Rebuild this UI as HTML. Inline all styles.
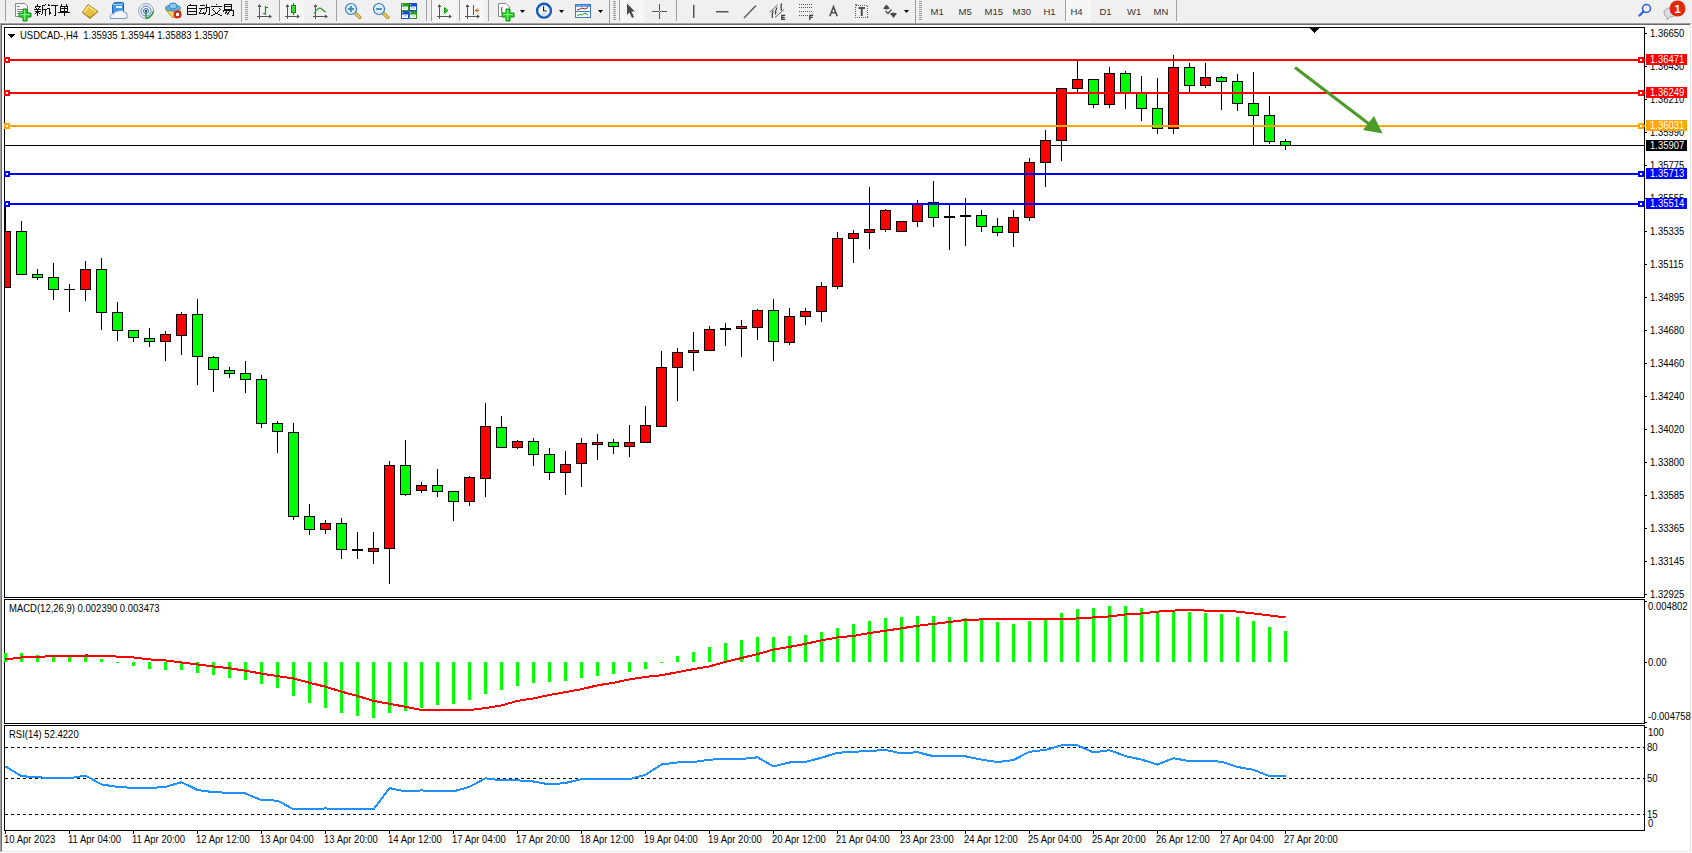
<!DOCTYPE html>
<html><head><meta charset="utf-8"><style>
html,body{margin:0;padding:0;background:#F0F0F0;overflow:hidden}
svg{display:block}
text{font-family:"Liberation Sans",sans-serif}
</style></head><body>
<svg width="1692" height="853" viewBox="0 0 1692 853" shape-rendering="crispEdges">
<rect x="0" y="0" width="1692" height="23" fill="#F0F0F0"/>
<rect x="0" y="23" width="1691" height="1" fill="#A0A0A0"/>
<rect x="0" y="23" width="1" height="829" fill="#A0A0A0"/>
<rect x="1" y="24" width="1689" height="1" fill="#696969"/>
<rect x="1" y="24" width="1" height="827" fill="#696969"/>
<rect x="2" y="25" width="1688" height="826" fill="#FFFFFF"/>
<rect x="1690" y="25" width="2" height="828" fill="#FFFFFF"/>
<rect x="0" y="852" width="1692" height="1" fill="#FFFFFF"/>
<rect x="1690" y="24" width="1" height="828" fill="#E3E3E3"/>
<rect x="1" y="851" width="1690" height="1" fill="#E3E3E3"/>
<rect x="4" y="27" width="1641" height="1" fill="#000"/>
<rect x="4" y="597" width="1641" height="1" fill="#000"/>
<rect x="4" y="27" width="1" height="571" fill="#000"/>
<rect x="1644" y="27" width="1" height="571" fill="#000"/>
<rect x="4" y="599" width="1641" height="1" fill="#000"/>
<rect x="4" y="723" width="1641" height="1" fill="#000"/>
<rect x="4" y="599" width="1" height="125" fill="#000"/>
<rect x="1644" y="599" width="1" height="125" fill="#000"/>
<rect x="4" y="725" width="1641" height="1" fill="#000"/>
<rect x="4" y="830" width="1641" height="1" fill="#000"/>
<rect x="4" y="725" width="1" height="106" fill="#000"/>
<rect x="1644" y="725" width="1" height="106" fill="#000"/>
<rect x="5" y="145" width="1639" height="1" fill="#000"/>
<defs><clipPath id="cm"><rect x="5" y="28" width="1639" height="569"/></clipPath></defs><g clip-path="url(#cm)">
<rect x="5" y="205" width="1" height="83" fill="#000"/>
<rect x="0" y="231" width="11" height="57" fill="#000"/>
<rect x="1" y="232" width="9" height="55" fill="#FF0000"/>
<rect x="21" y="221" width="1" height="53" fill="#000"/>
<rect x="16" y="231" width="11" height="44" fill="#000"/>
<rect x="17" y="232" width="9" height="42" fill="#00FF00"/>
<rect x="37" y="269" width="1" height="11" fill="#000"/>
<rect x="32" y="274" width="11" height="4" fill="#000"/>
<rect x="33" y="275" width="9" height="2" fill="#00FF00"/>
<rect x="53" y="263" width="1" height="37" fill="#000"/>
<rect x="48" y="277" width="11" height="13" fill="#000"/>
<rect x="49" y="278" width="9" height="11" fill="#00FF00"/>
<rect x="69" y="284" width="1" height="28" fill="#000"/>
<rect x="64" y="289" width="11" height="1" fill="#000"/>
<rect x="85" y="261" width="1" height="40" fill="#000"/>
<rect x="80" y="269" width="11" height="21" fill="#000"/>
<rect x="81" y="270" width="9" height="19" fill="#FF0000"/>
<rect x="101" y="258" width="1" height="72" fill="#000"/>
<rect x="96" y="269" width="11" height="44" fill="#000"/>
<rect x="97" y="270" width="9" height="42" fill="#00FF00"/>
<rect x="117" y="302" width="1" height="39" fill="#000"/>
<rect x="112" y="312" width="11" height="19" fill="#000"/>
<rect x="113" y="313" width="9" height="17" fill="#00FF00"/>
<rect x="133" y="330" width="1" height="12" fill="#000"/>
<rect x="128" y="330" width="11" height="8" fill="#000"/>
<rect x="129" y="331" width="9" height="6" fill="#00FF00"/>
<rect x="149" y="328" width="1" height="19" fill="#000"/>
<rect x="144" y="338" width="11" height="4" fill="#000"/>
<rect x="145" y="339" width="9" height="2" fill="#00FF00"/>
<rect x="165" y="331" width="1" height="30" fill="#000"/>
<rect x="160" y="334" width="11" height="8" fill="#000"/>
<rect x="161" y="335" width="9" height="6" fill="#FF0000"/>
<rect x="181" y="312" width="1" height="43" fill="#000"/>
<rect x="176" y="314" width="11" height="22" fill="#000"/>
<rect x="177" y="315" width="9" height="20" fill="#FF0000"/>
<rect x="197" y="299" width="1" height="86" fill="#000"/>
<rect x="192" y="314" width="11" height="43" fill="#000"/>
<rect x="193" y="315" width="9" height="41" fill="#00FF00"/>
<rect x="213" y="356" width="1" height="36" fill="#000"/>
<rect x="208" y="357" width="11" height="13" fill="#000"/>
<rect x="209" y="358" width="9" height="11" fill="#00FF00"/>
<rect x="229" y="367" width="1" height="11" fill="#000"/>
<rect x="224" y="370" width="11" height="4" fill="#000"/>
<rect x="225" y="371" width="9" height="2" fill="#00FF00"/>
<rect x="245" y="361" width="1" height="32" fill="#000"/>
<rect x="240" y="373" width="11" height="7" fill="#000"/>
<rect x="241" y="374" width="9" height="5" fill="#00FF00"/>
<rect x="261" y="375" width="1" height="53" fill="#000"/>
<rect x="256" y="379" width="11" height="45" fill="#000"/>
<rect x="257" y="380" width="9" height="43" fill="#00FF00"/>
<rect x="277" y="421" width="1" height="32" fill="#000"/>
<rect x="272" y="423" width="11" height="9" fill="#000"/>
<rect x="273" y="424" width="9" height="7" fill="#00FF00"/>
<rect x="293" y="423" width="1" height="97" fill="#000"/>
<rect x="288" y="432" width="11" height="85" fill="#000"/>
<rect x="289" y="433" width="9" height="83" fill="#00FF00"/>
<rect x="309" y="504" width="1" height="31" fill="#000"/>
<rect x="304" y="516" width="11" height="14" fill="#000"/>
<rect x="305" y="517" width="9" height="12" fill="#00FF00"/>
<rect x="325" y="520" width="1" height="14" fill="#000"/>
<rect x="320" y="523" width="11" height="7" fill="#000"/>
<rect x="321" y="524" width="9" height="5" fill="#FF0000"/>
<rect x="341" y="518" width="1" height="41" fill="#000"/>
<rect x="336" y="523" width="11" height="27" fill="#000"/>
<rect x="337" y="524" width="9" height="25" fill="#00FF00"/>
<rect x="357" y="532" width="1" height="27" fill="#000"/>
<rect x="352" y="549" width="11" height="2" fill="#000"/>
<rect x="373" y="532" width="1" height="32" fill="#000"/>
<rect x="368" y="548" width="11" height="4" fill="#000"/>
<rect x="369" y="549" width="9" height="2" fill="#FF0000"/>
<rect x="389" y="461" width="1" height="123" fill="#000"/>
<rect x="384" y="465" width="11" height="84" fill="#000"/>
<rect x="385" y="466" width="9" height="82" fill="#FF0000"/>
<rect x="405" y="440" width="1" height="56" fill="#000"/>
<rect x="400" y="465" width="11" height="30" fill="#000"/>
<rect x="401" y="466" width="9" height="28" fill="#00FF00"/>
<rect x="421" y="482" width="1" height="11" fill="#000"/>
<rect x="416" y="485" width="11" height="6" fill="#000"/>
<rect x="417" y="486" width="9" height="4" fill="#FF0000"/>
<rect x="437" y="469" width="1" height="28" fill="#000"/>
<rect x="432" y="485" width="11" height="7" fill="#000"/>
<rect x="433" y="486" width="9" height="5" fill="#00FF00"/>
<rect x="453" y="491" width="1" height="30" fill="#000"/>
<rect x="448" y="491" width="11" height="11" fill="#000"/>
<rect x="449" y="492" width="9" height="9" fill="#00FF00"/>
<rect x="469" y="476" width="1" height="30" fill="#000"/>
<rect x="464" y="477" width="11" height="25" fill="#000"/>
<rect x="465" y="478" width="9" height="23" fill="#FF0000"/>
<rect x="485" y="403" width="1" height="94" fill="#000"/>
<rect x="480" y="426" width="11" height="53" fill="#000"/>
<rect x="481" y="427" width="9" height="51" fill="#FF0000"/>
<rect x="501" y="416" width="1" height="31" fill="#000"/>
<rect x="496" y="427" width="11" height="21" fill="#000"/>
<rect x="497" y="428" width="9" height="19" fill="#00FF00"/>
<rect x="517" y="440" width="1" height="9" fill="#000"/>
<rect x="512" y="441" width="11" height="7" fill="#000"/>
<rect x="513" y="442" width="9" height="5" fill="#FF0000"/>
<rect x="533" y="438" width="1" height="28" fill="#000"/>
<rect x="528" y="441" width="11" height="14" fill="#000"/>
<rect x="529" y="442" width="9" height="12" fill="#00FF00"/>
<rect x="549" y="448" width="1" height="32" fill="#000"/>
<rect x="544" y="454" width="11" height="19" fill="#000"/>
<rect x="545" y="455" width="9" height="17" fill="#00FF00"/>
<rect x="565" y="451" width="1" height="44" fill="#000"/>
<rect x="560" y="464" width="11" height="9" fill="#000"/>
<rect x="561" y="465" width="9" height="7" fill="#FF0000"/>
<rect x="581" y="438" width="1" height="49" fill="#000"/>
<rect x="576" y="443" width="11" height="21" fill="#000"/>
<rect x="577" y="444" width="9" height="19" fill="#FF0000"/>
<rect x="597" y="434" width="1" height="26" fill="#000"/>
<rect x="592" y="442" width="11" height="3" fill="#000"/>
<rect x="593" y="443" width="9" height="1" fill="#FF0000"/>
<rect x="613" y="439" width="1" height="15" fill="#000"/>
<rect x="608" y="442" width="11" height="5" fill="#000"/>
<rect x="609" y="443" width="9" height="3" fill="#00FF00"/>
<rect x="629" y="425" width="1" height="32" fill="#000"/>
<rect x="624" y="442" width="11" height="5" fill="#000"/>
<rect x="625" y="443" width="9" height="3" fill="#FF0000"/>
<rect x="645" y="406" width="1" height="36" fill="#000"/>
<rect x="640" y="425" width="11" height="18" fill="#000"/>
<rect x="641" y="426" width="9" height="16" fill="#FF0000"/>
<rect x="661" y="351" width="1" height="75" fill="#000"/>
<rect x="656" y="367" width="11" height="60" fill="#000"/>
<rect x="657" y="368" width="9" height="58" fill="#FF0000"/>
<rect x="677" y="348" width="1" height="53" fill="#000"/>
<rect x="672" y="352" width="11" height="16" fill="#000"/>
<rect x="673" y="353" width="9" height="14" fill="#FF0000"/>
<rect x="693" y="332" width="1" height="39" fill="#000"/>
<rect x="688" y="350" width="11" height="3" fill="#000"/>
<rect x="689" y="351" width="9" height="1" fill="#FF0000"/>
<rect x="709" y="326" width="1" height="24" fill="#000"/>
<rect x="704" y="329" width="11" height="22" fill="#000"/>
<rect x="705" y="330" width="9" height="20" fill="#FF0000"/>
<rect x="725" y="323" width="1" height="23" fill="#000"/>
<rect x="720" y="328" width="11" height="2" fill="#000"/>
<rect x="741" y="320" width="1" height="37" fill="#000"/>
<rect x="736" y="326" width="11" height="3" fill="#000"/>
<rect x="737" y="327" width="9" height="1" fill="#FF0000"/>
<rect x="757" y="309" width="1" height="31" fill="#000"/>
<rect x="752" y="310" width="11" height="18" fill="#000"/>
<rect x="753" y="311" width="9" height="16" fill="#FF0000"/>
<rect x="773" y="299" width="1" height="62" fill="#000"/>
<rect x="768" y="310" width="11" height="32" fill="#000"/>
<rect x="769" y="311" width="9" height="30" fill="#00FF00"/>
<rect x="789" y="308" width="1" height="37" fill="#000"/>
<rect x="784" y="316" width="11" height="27" fill="#000"/>
<rect x="785" y="317" width="9" height="25" fill="#FF0000"/>
<rect x="805" y="308" width="1" height="17" fill="#000"/>
<rect x="800" y="311" width="11" height="6" fill="#000"/>
<rect x="801" y="312" width="9" height="4" fill="#FF0000"/>
<rect x="821" y="282" width="1" height="40" fill="#000"/>
<rect x="816" y="286" width="11" height="26" fill="#000"/>
<rect x="817" y="287" width="9" height="24" fill="#FF0000"/>
<rect x="837" y="232" width="1" height="57" fill="#000"/>
<rect x="832" y="238" width="11" height="49" fill="#000"/>
<rect x="833" y="239" width="9" height="47" fill="#FF0000"/>
<rect x="853" y="230" width="1" height="33" fill="#000"/>
<rect x="848" y="233" width="11" height="6" fill="#000"/>
<rect x="849" y="234" width="9" height="4" fill="#FF0000"/>
<rect x="869" y="187" width="1" height="62" fill="#000"/>
<rect x="864" y="229" width="11" height="4" fill="#000"/>
<rect x="865" y="230" width="9" height="2" fill="#FF0000"/>
<rect x="885" y="209" width="1" height="23" fill="#000"/>
<rect x="880" y="210" width="11" height="20" fill="#000"/>
<rect x="881" y="211" width="9" height="18" fill="#FF0000"/>
<rect x="901" y="221" width="1" height="10" fill="#000"/>
<rect x="896" y="221" width="11" height="11" fill="#000"/>
<rect x="897" y="222" width="9" height="9" fill="#FF0000"/>
<rect x="917" y="200" width="1" height="27" fill="#000"/>
<rect x="912" y="204" width="11" height="18" fill="#000"/>
<rect x="913" y="205" width="9" height="16" fill="#FF0000"/>
<rect x="933" y="181" width="1" height="46" fill="#000"/>
<rect x="928" y="202" width="11" height="16" fill="#000"/>
<rect x="929" y="203" width="9" height="14" fill="#00FF00"/>
<rect x="949" y="204" width="1" height="46" fill="#000"/>
<rect x="944" y="216" width="11" height="2" fill="#000"/>
<rect x="965" y="198" width="1" height="48" fill="#000"/>
<rect x="960" y="215" width="11" height="2" fill="#000"/>
<rect x="981" y="210" width="1" height="22" fill="#000"/>
<rect x="976" y="215" width="11" height="12" fill="#000"/>
<rect x="977" y="216" width="9" height="10" fill="#00FF00"/>
<rect x="997" y="218" width="1" height="18" fill="#000"/>
<rect x="992" y="226" width="11" height="7" fill="#000"/>
<rect x="993" y="227" width="9" height="5" fill="#00FF00"/>
<rect x="1013" y="210" width="1" height="37" fill="#000"/>
<rect x="1008" y="217" width="11" height="16" fill="#000"/>
<rect x="1009" y="218" width="9" height="14" fill="#FF0000"/>
<rect x="1029" y="158" width="1" height="63" fill="#000"/>
<rect x="1024" y="162" width="11" height="56" fill="#000"/>
<rect x="1025" y="163" width="9" height="54" fill="#FF0000"/>
<rect x="1045" y="130" width="1" height="57" fill="#000"/>
<rect x="1040" y="140" width="11" height="23" fill="#000"/>
<rect x="1041" y="141" width="9" height="21" fill="#FF0000"/>
<rect x="1061" y="88" width="1" height="73" fill="#000"/>
<rect x="1056" y="88" width="11" height="53" fill="#000"/>
<rect x="1057" y="89" width="9" height="51" fill="#FF0000"/>
<rect x="1077" y="61" width="1" height="31" fill="#000"/>
<rect x="1072" y="79" width="11" height="10" fill="#000"/>
<rect x="1073" y="80" width="9" height="8" fill="#FF0000"/>
<rect x="1093" y="79" width="1" height="29" fill="#000"/>
<rect x="1088" y="79" width="11" height="26" fill="#000"/>
<rect x="1089" y="80" width="9" height="24" fill="#00FF00"/>
<rect x="1109" y="67" width="1" height="41" fill="#000"/>
<rect x="1104" y="73" width="11" height="32" fill="#000"/>
<rect x="1105" y="74" width="9" height="30" fill="#FF0000"/>
<rect x="1125" y="71" width="1" height="38" fill="#000"/>
<rect x="1120" y="73" width="11" height="20" fill="#000"/>
<rect x="1121" y="74" width="9" height="18" fill="#00FF00"/>
<rect x="1141" y="76" width="1" height="45" fill="#000"/>
<rect x="1136" y="93" width="11" height="16" fill="#000"/>
<rect x="1137" y="94" width="9" height="14" fill="#00FF00"/>
<rect x="1157" y="78" width="1" height="56" fill="#000"/>
<rect x="1152" y="108" width="11" height="21" fill="#000"/>
<rect x="1153" y="109" width="9" height="19" fill="#00FF00"/>
<rect x="1173" y="55" width="1" height="79" fill="#000"/>
<rect x="1168" y="67" width="11" height="62" fill="#000"/>
<rect x="1169" y="68" width="9" height="60" fill="#FF0000"/>
<rect x="1189" y="63" width="1" height="29" fill="#000"/>
<rect x="1184" y="67" width="11" height="19" fill="#000"/>
<rect x="1185" y="68" width="9" height="17" fill="#00FF00"/>
<rect x="1205" y="63" width="1" height="25" fill="#000"/>
<rect x="1200" y="77" width="11" height="9" fill="#000"/>
<rect x="1201" y="78" width="9" height="7" fill="#FF0000"/>
<rect x="1221" y="76" width="1" height="34" fill="#000"/>
<rect x="1216" y="77" width="11" height="5" fill="#000"/>
<rect x="1217" y="78" width="9" height="3" fill="#00FF00"/>
<rect x="1237" y="74" width="1" height="37" fill="#000"/>
<rect x="1232" y="81" width="11" height="23" fill="#000"/>
<rect x="1233" y="82" width="9" height="21" fill="#00FF00"/>
<rect x="1253" y="72" width="1" height="73" fill="#000"/>
<rect x="1248" y="103" width="11" height="13" fill="#000"/>
<rect x="1249" y="104" width="9" height="11" fill="#00FF00"/>
<rect x="1269" y="96" width="1" height="48" fill="#000"/>
<rect x="1264" y="115" width="11" height="27" fill="#000"/>
<rect x="1265" y="116" width="9" height="25" fill="#00FF00"/>
<rect x="1285" y="139" width="1" height="11" fill="#000"/>
<rect x="1280" y="141" width="11" height="5" fill="#000"/>
<rect x="1281" y="142" width="9" height="3" fill="#00FF00"/>
</g>
<rect x="4" y="59" width="1641" height="2" fill="#FF0000"/>
<rect x="4" y="57" width="6" height="6" fill="#FF0000"/>
<rect x="6" y="59" width="2" height="2" fill="#FFFFFF"/>
<rect x="1638" y="57" width="6" height="6" fill="#FF0000"/>
<rect x="1640" y="59" width="2" height="2" fill="#FFFFFF"/>
<rect x="4" y="92" width="1641" height="2" fill="#FF0000"/>
<rect x="4" y="90" width="6" height="6" fill="#FF0000"/>
<rect x="6" y="92" width="2" height="2" fill="#FFFFFF"/>
<rect x="1638" y="90" width="6" height="6" fill="#FF0000"/>
<rect x="1640" y="92" width="2" height="2" fill="#FFFFFF"/>
<rect x="4" y="125" width="1641" height="2" fill="#FFA500"/>
<rect x="4" y="123" width="6" height="6" fill="#FFA500"/>
<rect x="6" y="125" width="2" height="2" fill="#FFFFFF"/>
<rect x="1638" y="123" width="6" height="6" fill="#FFA500"/>
<rect x="1640" y="125" width="2" height="2" fill="#FFFFFF"/>
<rect x="4" y="173" width="1641" height="2" fill="#0000FF"/>
<rect x="4" y="171" width="6" height="6" fill="#0000FF"/>
<rect x="6" y="173" width="2" height="2" fill="#FFFFFF"/>
<rect x="1638" y="171" width="6" height="6" fill="#0000FF"/>
<rect x="1640" y="173" width="2" height="2" fill="#FFFFFF"/>
<rect x="4" y="203" width="1641" height="2" fill="#0000FF"/>
<rect x="4" y="201" width="6" height="6" fill="#0000FF"/>
<rect x="6" y="203" width="2" height="2" fill="#FFFFFF"/>
<rect x="1638" y="201" width="6" height="6" fill="#0000FF"/>
<rect x="1640" y="203" width="2" height="2" fill="#FFFFFF"/>
<rect x="1645" y="33" width="2" height="1" fill="#000"/>
<text transform="translate(1650,37) scale(0.95,1)" fill="#000" font-size="10" text-anchor="start" >1.36650</text>
<rect x="1645" y="66" width="2" height="1" fill="#000"/>
<text transform="translate(1650,70) scale(0.95,1)" fill="#000" font-size="10" text-anchor="start" >1.36430</text>
<rect x="1645" y="99" width="2" height="1" fill="#000"/>
<text transform="translate(1650,103) scale(0.95,1)" fill="#000" font-size="10" text-anchor="start" >1.36210</text>
<rect x="1645" y="132" width="2" height="1" fill="#000"/>
<text transform="translate(1650,136) scale(0.95,1)" fill="#000" font-size="10" text-anchor="start" >1.35990</text>
<rect x="1645" y="165" width="2" height="1" fill="#000"/>
<text transform="translate(1650,169) scale(0.95,1)" fill="#000" font-size="10" text-anchor="start" >1.35775</text>
<rect x="1645" y="198" width="2" height="1" fill="#000"/>
<text transform="translate(1650,202) scale(0.95,1)" fill="#000" font-size="10" text-anchor="start" >1.35555</text>
<rect x="1645" y="231" width="2" height="1" fill="#000"/>
<text transform="translate(1650,235) scale(0.95,1)" fill="#000" font-size="10" text-anchor="start" >1.35335</text>
<rect x="1645" y="264" width="2" height="1" fill="#000"/>
<text transform="translate(1650,268) scale(0.95,1)" fill="#000" font-size="10" text-anchor="start" >1.35115</text>
<rect x="1645" y="297" width="2" height="1" fill="#000"/>
<text transform="translate(1650,301) scale(0.95,1)" fill="#000" font-size="10" text-anchor="start" >1.34895</text>
<rect x="1645" y="330" width="2" height="1" fill="#000"/>
<text transform="translate(1650,334) scale(0.95,1)" fill="#000" font-size="10" text-anchor="start" >1.34680</text>
<rect x="1645" y="363" width="2" height="1" fill="#000"/>
<text transform="translate(1650,367) scale(0.95,1)" fill="#000" font-size="10" text-anchor="start" >1.34460</text>
<rect x="1645" y="396" width="2" height="1" fill="#000"/>
<text transform="translate(1650,400) scale(0.95,1)" fill="#000" font-size="10" text-anchor="start" >1.34240</text>
<rect x="1645" y="429" width="2" height="1" fill="#000"/>
<text transform="translate(1650,433) scale(0.95,1)" fill="#000" font-size="10" text-anchor="start" >1.34020</text>
<rect x="1645" y="462" width="2" height="1" fill="#000"/>
<text transform="translate(1650,466) scale(0.95,1)" fill="#000" font-size="10" text-anchor="start" >1.33800</text>
<rect x="1645" y="495" width="2" height="1" fill="#000"/>
<text transform="translate(1650,499) scale(0.95,1)" fill="#000" font-size="10" text-anchor="start" >1.33585</text>
<rect x="1645" y="528" width="2" height="1" fill="#000"/>
<text transform="translate(1650,532) scale(0.95,1)" fill="#000" font-size="10" text-anchor="start" >1.33365</text>
<rect x="1645" y="561" width="2" height="1" fill="#000"/>
<text transform="translate(1650,565) scale(0.95,1)" fill="#000" font-size="10" text-anchor="start" >1.33145</text>
<rect x="1645" y="594" width="2" height="1" fill="#000"/>
<text transform="translate(1650,598) scale(0.95,1)" fill="#000" font-size="10" text-anchor="start" >1.32925</text>
<rect x="1646" y="54" width="41" height="11" fill="#FF0000"/>
<text transform="translate(1650,63) scale(0.95,1)" fill="#FFFFFF" font-size="10" text-anchor="start" >1.36471</text>
<rect x="1646" y="87" width="41" height="11" fill="#FF0000"/>
<text transform="translate(1650,96) scale(0.95,1)" fill="#FFFFFF" font-size="10" text-anchor="start" >1.36249</text>
<rect x="1646" y="120" width="41" height="11" fill="#FFA500"/>
<text transform="translate(1650,129) scale(0.95,1)" fill="#FFFFFF" font-size="10" text-anchor="start" >1.36031</text>
<rect x="1646" y="168" width="41" height="11" fill="#0000FF"/>
<text transform="translate(1650,177) scale(0.95,1)" fill="#FFFFFF" font-size="10" text-anchor="start" >1.35713</text>
<rect x="1646" y="198" width="41" height="11" fill="#0000FF"/>
<text transform="translate(1650,207) scale(0.95,1)" fill="#FFFFFF" font-size="10" text-anchor="start" >1.35514</text>
<rect x="1646" y="140" width="41" height="11" fill="#000"/>
<text transform="translate(1650,149) scale(0.95,1)" fill="#FFF" font-size="10" text-anchor="start" >1.35907</text>
<g shape-rendering="geometricPrecision"><line x1="1295" y1="67.5" x2="1371" y2="125.5" stroke="#4C9A2A" stroke-width="3"/>
<polygon points="1382.5,133.5 1363,130 1374,116" fill="#4C9A2A"/></g>
<polygon points="1309,28 1320,28 1314.5,33" fill="#000"/>
<polygon points="8,34 15,34 11.5,38" fill="#000"/>
<text transform="translate(20,39) scale(0.95,1)" fill="#000" font-size="10" text-anchor="start" >USDCAD-,H4&#160;&#160;1.35935 1.35944 1.35883 1.35907</text>
<rect x="4" y="653" width="3" height="9" fill="#00FF00"/>
<rect x="20" y="653" width="3" height="9" fill="#00FF00"/>
<rect x="36" y="655" width="3" height="7" fill="#00FF00"/>
<rect x="52" y="657" width="3" height="5" fill="#00FF00"/>
<rect x="68" y="656" width="3" height="6" fill="#00FF00"/>
<rect x="84" y="656" width="3" height="6" fill="#00FF00"/>
<rect x="100" y="659" width="3" height="3" fill="#00FF00"/>
<rect x="116" y="662" width="3" height="1" fill="#00FF00"/>
<rect x="132" y="662" width="3" height="4" fill="#00FF00"/>
<rect x="148" y="662" width="3" height="7" fill="#00FF00"/>
<rect x="164" y="662" width="3" height="8" fill="#00FF00"/>
<rect x="180" y="662" width="3" height="8" fill="#00FF00"/>
<rect x="196" y="662" width="3" height="11" fill="#00FF00"/>
<rect x="212" y="662" width="3" height="13" fill="#00FF00"/>
<rect x="228" y="662" width="3" height="16" fill="#00FF00"/>
<rect x="244" y="662" width="3" height="18" fill="#00FF00"/>
<rect x="260" y="662" width="3" height="22" fill="#00FF00"/>
<rect x="276" y="662" width="3" height="26" fill="#00FF00"/>
<rect x="292" y="662" width="3" height="34" fill="#00FF00"/>
<rect x="308" y="662" width="3" height="41" fill="#00FF00"/>
<rect x="324" y="662" width="3" height="46" fill="#00FF00"/>
<rect x="340" y="662" width="3" height="51" fill="#00FF00"/>
<rect x="356" y="662" width="3" height="54" fill="#00FF00"/>
<rect x="372" y="662" width="3" height="56" fill="#00FF00"/>
<rect x="388" y="662" width="3" height="51" fill="#00FF00"/>
<rect x="404" y="662" width="3" height="49" fill="#00FF00"/>
<rect x="420" y="662" width="3" height="46" fill="#00FF00"/>
<rect x="436" y="662" width="3" height="43" fill="#00FF00"/>
<rect x="452" y="662" width="3" height="42" fill="#00FF00"/>
<rect x="468" y="662" width="3" height="38" fill="#00FF00"/>
<rect x="484" y="662" width="3" height="32" fill="#00FF00"/>
<rect x="500" y="662" width="3" height="28" fill="#00FF00"/>
<rect x="516" y="662" width="3" height="24" fill="#00FF00"/>
<rect x="532" y="662" width="3" height="21" fill="#00FF00"/>
<rect x="548" y="662" width="3" height="20" fill="#00FF00"/>
<rect x="564" y="662" width="3" height="19" fill="#00FF00"/>
<rect x="580" y="662" width="3" height="16" fill="#00FF00"/>
<rect x="596" y="662" width="3" height="14" fill="#00FF00"/>
<rect x="612" y="662" width="3" height="12" fill="#00FF00"/>
<rect x="628" y="662" width="3" height="10" fill="#00FF00"/>
<rect x="644" y="662" width="3" height="7" fill="#00FF00"/>
<rect x="660" y="662" width="3" height="1" fill="#00FF00"/>
<rect x="676" y="656" width="3" height="6" fill="#00FF00"/>
<rect x="692" y="652" width="3" height="10" fill="#00FF00"/>
<rect x="708" y="647" width="3" height="15" fill="#00FF00"/>
<rect x="724" y="643" width="3" height="19" fill="#00FF00"/>
<rect x="740" y="640" width="3" height="22" fill="#00FF00"/>
<rect x="756" y="637" width="3" height="25" fill="#00FF00"/>
<rect x="772" y="637" width="3" height="25" fill="#00FF00"/>
<rect x="788" y="636" width="3" height="26" fill="#00FF00"/>
<rect x="804" y="635" width="3" height="27" fill="#00FF00"/>
<rect x="820" y="632" width="3" height="30" fill="#00FF00"/>
<rect x="836" y="628" width="3" height="34" fill="#00FF00"/>
<rect x="852" y="624" width="3" height="38" fill="#00FF00"/>
<rect x="868" y="621" width="3" height="41" fill="#00FF00"/>
<rect x="884" y="618" width="3" height="44" fill="#00FF00"/>
<rect x="900" y="617" width="3" height="45" fill="#00FF00"/>
<rect x="916" y="616" width="3" height="46" fill="#00FF00"/>
<rect x="932" y="616" width="3" height="46" fill="#00FF00"/>
<rect x="948" y="617" width="3" height="45" fill="#00FF00"/>
<rect x="964" y="618" width="3" height="44" fill="#00FF00"/>
<rect x="980" y="619" width="3" height="43" fill="#00FF00"/>
<rect x="996" y="622" width="3" height="40" fill="#00FF00"/>
<rect x="1012" y="624" width="3" height="38" fill="#00FF00"/>
<rect x="1028" y="621" width="3" height="41" fill="#00FF00"/>
<rect x="1044" y="619" width="3" height="43" fill="#00FF00"/>
<rect x="1060" y="613" width="3" height="49" fill="#00FF00"/>
<rect x="1076" y="609" width="3" height="53" fill="#00FF00"/>
<rect x="1092" y="608" width="3" height="54" fill="#00FF00"/>
<rect x="1108" y="606" width="3" height="56" fill="#00FF00"/>
<rect x="1124" y="606" width="3" height="56" fill="#00FF00"/>
<rect x="1140" y="608" width="3" height="54" fill="#00FF00"/>
<rect x="1156" y="612" width="3" height="50" fill="#00FF00"/>
<rect x="1172" y="611" width="3" height="51" fill="#00FF00"/>
<rect x="1188" y="612" width="3" height="50" fill="#00FF00"/>
<rect x="1204" y="613" width="3" height="49" fill="#00FF00"/>
<rect x="1220" y="614" width="3" height="48" fill="#00FF00"/>
<rect x="1236" y="617" width="3" height="45" fill="#00FF00"/>
<rect x="1252" y="621" width="3" height="41" fill="#00FF00"/>
<rect x="1268" y="627" width="3" height="35" fill="#00FF00"/>
<rect x="1284" y="631" width="3" height="31" fill="#00FF00"/>
<polyline points="5.5,659.5 21.5,657.4 37.5,656.6 53.5,656.4 69.5,656.0 85.5,655.5 101.5,655.6 117.5,656.6 133.5,657.4 149.5,659.4 165.5,660.5 181.5,662.5 197.5,664.4 213.5,666.4 229.5,668.3 245.5,670.7 261.5,673.6 277.5,676.1 293.5,678.5 309.5,682.8 325.5,686.7 341.5,691.7 357.5,696.0 373.5,700.9 389.5,703.8 405.5,706.8 421.5,710.1 437.5,710.1 453.5,710.1 469.5,710.1 485.5,708.1 501.5,705.4 517.5,700.9 533.5,698.4 549.5,695.0 565.5,692.1 581.5,689.2 597.5,685.3 613.5,682.8 629.5,679.4 645.5,676.9 661.5,675.2 677.5,672.2 693.5,669.1 709.5,666.4 725.5,661.9 741.5,658.0 757.5,654.1 773.5,649.6 789.5,646.9 805.5,643.8 821.5,640.4 837.5,637.5 853.5,635.9 869.5,633.0 885.5,630.7 901.5,628.3 917.5,625.8 933.5,623.9 949.5,621.9 965.5,620.0 981.5,619.4 997.5,619.4 1013.5,619.4 1029.5,619.4 1045.5,619.4 1061.5,619.4 1077.5,618.4 1093.5,617.4 1109.5,616.4 1125.5,614.5 1141.5,613.5 1157.5,611.6 1173.5,610.6 1189.5,609.6 1205.5,610.6 1221.5,610.6 1237.5,611.6 1253.5,613.5 1269.5,615.5 1285.5,617.4" fill="none" stroke="#FF0000" stroke-width="2"/>
<text transform="translate(9,612) scale(0.95,1)" fill="#000" font-size="10" text-anchor="start" >MACD(12,26,9) 0.002390 0.003473</text>
<rect x="1645" y="601" width="2" height="1" fill="#000"/>
<rect x="1645" y="662" width="2" height="1" fill="#000"/>
<rect x="1645" y="722" width="2" height="1" fill="#000"/>
<text transform="translate(1648,610) scale(0.95,1)" fill="#000" font-size="10" text-anchor="start" >0.004802</text>
<text transform="translate(1648,666) scale(0.95,1)" fill="#000" font-size="10" text-anchor="start" >0.00</text>
<text transform="translate(1648,720) scale(0.95,1)" fill="#000" font-size="10" text-anchor="start" >-0.004758</text>
<line x1="5" y1="747.5" x2="1644" y2="747.5" stroke="#000" stroke-width="1" stroke-dasharray="3,3" />
<line x1="5" y1="778.5" x2="1644" y2="778.5" stroke="#000" stroke-width="1" stroke-dasharray="3,3" />
<line x1="5" y1="814.5" x2="1644" y2="814.5" stroke="#000" stroke-width="1" stroke-dasharray="3,3" />
<polyline points="5.5,766.4 21.5,776.2 37.5,777.2 53.5,778.3 69.5,778.3 85.5,775.6 101.5,784.4 117.5,786.9 133.5,787.9 149.5,788.1 165.5,786.9 181.5,782.2 197.5,790.0 213.5,792.2 229.5,792.8 245.5,793.5 261.5,800.2 277.5,800.6 293.5,809.3 309.5,809.3 325.5,808.4 341.5,809.3 357.5,809.3 373.5,809.3 389.5,788.1 405.5,791.4 421.5,790.4 437.5,791.4 453.5,791.4 469.5,786.9 485.5,778.3 501.5,780.3 517.5,780.3 533.5,781.5 549.5,784.4 565.5,783.0 581.5,779.1 597.5,779.1 613.5,779.3 629.5,779.1 645.5,774.8 661.5,764.5 677.5,762.5 693.5,762.1 709.5,759.6 725.5,759.2 741.5,759.0 757.5,757.3 773.5,766.4 789.5,762.5 805.5,761.9 821.5,757.7 837.5,752.8 853.5,751.8 869.5,751.0 885.5,749.9 901.5,753.4 917.5,752.2 933.5,756.3 949.5,756.3 965.5,756.3 981.5,759.6 997.5,762.1 1013.5,760.0 1029.5,751.8 1045.5,749.9 1061.5,745.4 1077.5,745.4 1093.5,752.4 1109.5,750.2 1125.5,756.1 1141.5,759.6 1157.5,764.5 1173.5,758.2 1189.5,761.2 1205.5,761.2 1221.5,761.6 1237.5,767.0 1253.5,769.8 1269.5,776.2 1285.5,776.2" fill="none" stroke="#1E90FF" stroke-width="2"/>
<text transform="translate(9,738) scale(0.95,1)" fill="#000" font-size="10" text-anchor="start" >RSI(14) 52.4220</text>
<rect x="1645" y="727" width="2" height="1" fill="#000"/>
<text transform="translate(1648,736) scale(0.95,1)" fill="#000" font-size="10" text-anchor="start" >100</text>
<text transform="translate(1647,751) scale(0.95,1)" fill="#000" font-size="10" text-anchor="start" >80</text>
<text transform="translate(1647,782) scale(0.95,1)" fill="#000" font-size="10" text-anchor="start" >50</text>
<text transform="translate(1647,818) scale(0.95,1)" fill="#000" font-size="10" text-anchor="start" >15</text>
<text transform="translate(1648,827) scale(0.95,1)" fill="#000" font-size="10" text-anchor="start" >0</text>
<rect x="5" y="831" width="1" height="3" fill="#000"/>
<text transform="translate(4,843) scale(0.95,1)" fill="#000" font-size="10" text-anchor="start" >10 Apr 2023</text>
<rect x="69" y="831" width="1" height="3" fill="#000"/>
<text transform="translate(68,843) scale(0.95,1)" fill="#000" font-size="10" text-anchor="start" >11 Apr 04:00</text>
<rect x="133" y="831" width="1" height="3" fill="#000"/>
<text transform="translate(132,843) scale(0.95,1)" fill="#000" font-size="10" text-anchor="start" >11 Apr 20:00</text>
<rect x="197" y="831" width="1" height="3" fill="#000"/>
<text transform="translate(196,843) scale(0.95,1)" fill="#000" font-size="10" text-anchor="start" >12 Apr 12:00</text>
<rect x="261" y="831" width="1" height="3" fill="#000"/>
<text transform="translate(260,843) scale(0.95,1)" fill="#000" font-size="10" text-anchor="start" >13 Apr 04:00</text>
<rect x="325" y="831" width="1" height="3" fill="#000"/>
<text transform="translate(324,843) scale(0.95,1)" fill="#000" font-size="10" text-anchor="start" >13 Apr 20:00</text>
<rect x="389" y="831" width="1" height="3" fill="#000"/>
<text transform="translate(388,843) scale(0.95,1)" fill="#000" font-size="10" text-anchor="start" >14 Apr 12:00</text>
<rect x="453" y="831" width="1" height="3" fill="#000"/>
<text transform="translate(452,843) scale(0.95,1)" fill="#000" font-size="10" text-anchor="start" >17 Apr 04:00</text>
<rect x="517" y="831" width="1" height="3" fill="#000"/>
<text transform="translate(516,843) scale(0.95,1)" fill="#000" font-size="10" text-anchor="start" >17 Apr 20:00</text>
<rect x="581" y="831" width="1" height="3" fill="#000"/>
<text transform="translate(580,843) scale(0.95,1)" fill="#000" font-size="10" text-anchor="start" >18 Apr 12:00</text>
<rect x="645" y="831" width="1" height="3" fill="#000"/>
<text transform="translate(644,843) scale(0.95,1)" fill="#000" font-size="10" text-anchor="start" >19 Apr 04:00</text>
<rect x="709" y="831" width="1" height="3" fill="#000"/>
<text transform="translate(708,843) scale(0.95,1)" fill="#000" font-size="10" text-anchor="start" >19 Apr 20:00</text>
<rect x="773" y="831" width="1" height="3" fill="#000"/>
<text transform="translate(772,843) scale(0.95,1)" fill="#000" font-size="10" text-anchor="start" >20 Apr 12:00</text>
<rect x="837" y="831" width="1" height="3" fill="#000"/>
<text transform="translate(836,843) scale(0.95,1)" fill="#000" font-size="10" text-anchor="start" >21 Apr 04:00</text>
<rect x="901" y="831" width="1" height="3" fill="#000"/>
<text transform="translate(900,843) scale(0.95,1)" fill="#000" font-size="10" text-anchor="start" >23 Apr 23:00</text>
<rect x="965" y="831" width="1" height="3" fill="#000"/>
<text transform="translate(964,843) scale(0.95,1)" fill="#000" font-size="10" text-anchor="start" >24 Apr 12:00</text>
<rect x="1029" y="831" width="1" height="3" fill="#000"/>
<text transform="translate(1028,843) scale(0.95,1)" fill="#000" font-size="10" text-anchor="start" >25 Apr 04:00</text>
<rect x="1093" y="831" width="1" height="3" fill="#000"/>
<text transform="translate(1092,843) scale(0.95,1)" fill="#000" font-size="10" text-anchor="start" >25 Apr 20:00</text>
<rect x="1157" y="831" width="1" height="3" fill="#000"/>
<text transform="translate(1156,843) scale(0.95,1)" fill="#000" font-size="10" text-anchor="start" >26 Apr 12:00</text>
<rect x="1221" y="831" width="1" height="3" fill="#000"/>
<text transform="translate(1220,843) scale(0.95,1)" fill="#000" font-size="10" text-anchor="start" >27 Apr 04:00</text>
<rect x="1285" y="831" width="1" height="3" fill="#000"/>
<text transform="translate(1284,843) scale(0.95,1)" fill="#000" font-size="10" text-anchor="start" >27 Apr 20:00</text>
<g shape-rendering="geometricPrecision"><defs><pattern id="dith" x="0" y="0" width="2" height="2" patternUnits="userSpaceOnUse"><rect width="2" height="2" fill="#EEEEEE"/><rect width="1" height="1" fill="#FFFFFF"/><rect x="1" y="1" width="1" height="1" fill="#FFFFFF"/></pattern></defs>
<rect x="5" y="0" width="1" height="21" fill="#A0A0A0"/>
<path d="M15.5,3.5 H25 L27.5,6 V16.5 H15.5 Z" fill="#FFF" stroke="#8A8A8A"/>
<path d="M17,6.5 H20 M17,9.5 H23 M17,11.5 H22 M17,13.5 H21" stroke="#8A8A8A" stroke-width="1"/>
<path d="M19,13 h4 v-4 h4 v4 h4 v4 h-4 v4 h-4 v-4 h-4 z" fill="#2ED82E" stroke="#0E8A0E" stroke-width="1"/>
<path d="M20,14.5 h10 M24.5,10 v10" stroke="#7CF07C" stroke-width="1"/>
<path d="M37.5,4 v1.5 M34.5,6.5 h6 M35.5,7.5 l1,1.5 M39.5,7.5 l-1,1.5 M34,9.5 h7 M37.5,9.5 v6 M34.5,11.5 h6 M37.5,11.5 l-3,3 M37.5,11.5 l3,3" stroke="#111" stroke-width="1" fill="none" shape-rendering="crispEdges"/>
<path d="M46,4.5 l-3.5,1.5 M42.5,6 v5 q0,3 -1,4 M42.5,9.5 h4.5 M45.5,9.5 v6" stroke="#111" stroke-width="1" fill="none" shape-rendering="crispEdges"/>
<path d="M48,4.5 l1.5,1.5 M47,8.5 h2.5 v5.5 l1.5,-1.5 M51,5.5 h7 M55.5,5.5 v9.5 h-2" stroke="#111" stroke-width="1" fill="none" shape-rendering="crispEdges"/>
<path d="M61,4 l1,1.5 M67,4 l-1,1.5 M60.5,6.5 h7 v4.5 h-7 z M60.5,8.75 h7 M64,6.5 v9 M58,12.5 h12" stroke="#111" stroke-width="1" fill="none" shape-rendering="crispEdges"/>
<path d="M82.5,12.5 L88,4.5 L98,11.5 L90,18.5 Z" fill="#E8C040" stroke="#A07018" stroke-width="1"/>
<path d="M84,12 L88.5,6 L96,11.5" fill="none" stroke="#FAE890" stroke-width="1.5"/>
<path d="M83,13 L90,17.5 L97.5,12" fill="none" stroke="#C08820" stroke-width="1"/>
<path d="M112.5,4.5 L115,2.5 H123.5 V13 H112.5 Z" fill="#3A9AF0" stroke="#1C64B4"/>
<path d="M112.5,4.5 H121 L123.5,2.5" fill="none" stroke="#9AD0FF"/>
<rect x="116" y="6" width="6" height="2" fill="#E8F4FF"/>
<path d="M110.5,18.5 q-1.5,-4.5 3,-4.5 q1,-3.5 5,-3 q3,-2.5 5.5,1 q3.5,0 3,3.5 q1,3 -2,3 z" fill="#F2F6FA" stroke="#7F95B8"/>
<circle cx="146" cy="11" r="7.5" fill="none" stroke="#8FA8D8" stroke-width="1"/>
<circle cx="146" cy="11" r="5" fill="none" stroke="#5C84C8" stroke-width="1"/>
<circle cx="146" cy="11" r="2.5" fill="none" stroke="#3A6AC0" stroke-width="1"/>
<path d="M146,11 V18.5 M146,18.5 Q152,17 153.5,11" stroke="#2A9A2A" stroke-width="1.3" fill="none"/>
<circle cx="146" cy="11" r="1.2" fill="#2050B0"/>
<path d="M165.5,9.5 L173,18 L181,11 Z" fill="#F0D860" stroke="#B09020"/>
<ellipse cx="173" cy="8" rx="7.5" ry="3" fill="#6CB4E0" stroke="#3A84B8"/>
<ellipse cx="173" cy="6" rx="4" ry="3" fill="#8ACAF0" stroke="#3A84B8"/>
<circle cx="177.5" cy="14.5" r="4" fill="#D82818"/>
<rect x="176" y="13" width="3" height="3" fill="#FFF"/>
<path d="M190,4 l1,1 M187.5,5.5 h9 v9.5 M187.5,5.5 v9.5 M187.5,8.5 h9 M187.5,11.5 h9 M187.5,14.5 h9" stroke="#111" stroke-width="1" fill="none" shape-rendering="crispEdges"/>
<path d="M199.5,5.5 h5 M199,8.5 h6 M201.5,8.5 l-2,5 h5 M203,12 l1.5,2.5 M204.5,7.5 h4.5 v7 h-1.5 M206.5,4 v5 q0,4 -2.5,6" stroke="#111" stroke-width="1" fill="none" shape-rendering="crispEdges"/>
<path d="M216.5,4 l1,1.5 M211,6.5 h11 M214,8 l-2.5,2.5 M219,8 l2.5,2.5 M213.5,10.5 q3,4 8.5,5 M219.5,10.5 q-3,4 -8.5,5" stroke="#111" stroke-width="1" fill="none" shape-rendering="crispEdges"/>
<path d="M224.5,4.5 h7 v4.5 h-7 z M224.5,6.75 h7 M225.5,9 l-2.5,2.5 M224.5,10.5 h8.5 v4.5 h-1.5 M227.5,10.5 l-3,4 M230,10.5 l-3,4.5" stroke="#111" stroke-width="1" fill="none" shape-rendering="crispEdges"/>
<rect x="241" y="0" width="1" height="22" fill="#A8A8A8"/>
<rect x="245" y="1" width="3" height="1" fill="#9A9A9A"/>
<rect x="245" y="3" width="3" height="1" fill="#9A9A9A"/>
<rect x="245" y="5" width="3" height="1" fill="#9A9A9A"/>
<rect x="245" y="7" width="3" height="1" fill="#9A9A9A"/>
<rect x="245" y="9" width="3" height="1" fill="#9A9A9A"/>
<rect x="245" y="11" width="3" height="1" fill="#9A9A9A"/>
<rect x="245" y="13" width="3" height="1" fill="#9A9A9A"/>
<rect x="245" y="15" width="3" height="1" fill="#9A9A9A"/>
<rect x="245" y="17" width="3" height="1" fill="#9A9A9A"/>
<rect x="245" y="19" width="3" height="1" fill="#9A9A9A"/>
<path d="M259.5,5 V19 M257,16.5 H270" stroke="#555" stroke-width="1" fill="none"/>
<polygon points="257.5,7 261.5,7 259.5,4" fill="#555"/>
<polygon points="269,14.5 269,18.5 272,16.5" fill="#555"/>
<path d="M265.5,6 V15 M265.5,7.5 H268 M263,13.5 H265.5" stroke="#119911" stroke-width="1.2" fill="none"/>
<rect x="279" y="0" width="1" height="21" fill="#A0A0A0"/>
<rect x="280" y="0" width="24" height="21" fill="url(#dith)" shape-rendering="crispEdges"/>
<rect x="280" y="21" width="24" height="1" fill="#FFFFFF"/>
<path d="M287.5,5 V19 M285,16.5 H298" stroke="#555" stroke-width="1" fill="none"/>
<polygon points="285.5,7 289.5,7 287.5,4" fill="#555"/>
<polygon points="297,14.5 297,18.5 300,16.5" fill="#555"/>
<path d="M293.5,3 V15" stroke="#0A8A0A" stroke-width="1"/>
<rect x="291.5" y="5.5" width="4" height="7" fill="#3ADC3A" stroke="#0A8A0A"/>
<path d="M315.5,5 V19 M313,16.5 H326" stroke="#555" stroke-width="1" fill="none"/>
<polygon points="313.5,7 317.5,7 315.5,4" fill="#555"/>
<polygon points="325,14.5 325,18.5 328,16.5" fill="#555"/>
<path d="M314,13.5 C316,10.5 318.2,8.2 320,8.2 C322,8.2 323.5,11.3 325.8,12" stroke="#2A9A2A" stroke-width="1.2" fill="none"/>
<rect x="336" y="0" width="1" height="21" fill="#A0A0A0"/>
<path d="M354.5,12.5 L360,17.5" stroke="#A07810" stroke-width="3.2" stroke-linecap="round"/>
<path d="M354.5,12.5 L360,17.5" stroke="#E8D060" stroke-width="1.8" stroke-linecap="round"/>
<circle cx="351" cy="9" r="5.5" fill="#D8F0FA" stroke="#3478C8" stroke-width="1.2"/>
<path d="M348,9 H354 M351,6 V12" stroke="#4A88B0" stroke-width="1.8"/>
<path d="M382.5,12.5 L388,17.5" stroke="#A07810" stroke-width="3.2" stroke-linecap="round"/>
<path d="M382.5,12.5 L388,17.5" stroke="#E8D060" stroke-width="1.8" stroke-linecap="round"/>
<circle cx="379" cy="9" r="5.5" fill="#D8F0FA" stroke="#3478C8" stroke-width="1.2"/>
<path d="M376,9 H382" stroke="#4A88B0" stroke-width="1.8"/>
<rect x="401" y="3" width="8" height="8" fill="#2E9A1E"/>
<rect x="402" y="6.5" width="6" height="3.5" fill="#FFF"/>
<rect x="403" y="7.5" width="4" height="0.9" fill="#9AD890"/>
<rect x="402" y="4" width="1" height="1" fill="#DDEEFF"/>
<rect x="409" y="3" width="8" height="8" fill="#1A4ED0"/>
<rect x="410" y="6.5" width="6" height="3.5" fill="#FFF"/>
<rect x="411" y="7.5" width="4" height="0.9" fill="#90A8E8"/>
<rect x="410" y="4" width="1" height="1" fill="#DDEEFF"/>
<rect x="401" y="11" width="8" height="8" fill="#1A4ED0"/>
<rect x="402" y="14.5" width="6" height="3.5" fill="#FFF"/>
<rect x="403" y="15.5" width="4" height="0.9" fill="#90A8E8"/>
<rect x="402" y="12" width="1" height="1" fill="#DDEEFF"/>
<rect x="409" y="11" width="8" height="8" fill="#2E9A1E"/>
<rect x="410" y="14.5" width="6" height="3.5" fill="#FFF"/>
<rect x="411" y="15.5" width="4" height="0.9" fill="#9AD890"/>
<rect x="410" y="12" width="1" height="1" fill="#DDEEFF"/>
<rect x="426" y="0" width="1" height="21" fill="#A0A0A0"/>
<rect x="431" y="0" width="1" height="21" fill="#A0A0A0"/>
<rect x="432" y="0" width="24" height="21" fill="url(#dith)" shape-rendering="crispEdges"/>
<rect x="432" y="21" width="24" height="1" fill="#FFFFFF"/>
<path d="M439.5,5 V19 M437,16.5 H450" stroke="#555" stroke-width="1" fill="none"/>
<polygon points="437.5,7 441.5,7 439.5,4" fill="#555"/>
<polygon points="449,14.5 449,18.5 452,16.5" fill="#555"/>
<polygon points="444.5,7.5 444.5,13.5 448,10.5" fill="#3ACC3A" stroke="#119911" stroke-width="1"/>
<rect x="459" y="0" width="1" height="21" fill="#A0A0A0"/>
<rect x="460" y="0" width="24" height="21" fill="url(#dith)" shape-rendering="crispEdges"/>
<rect x="460" y="21" width="24" height="1" fill="#FFFFFF"/>
<path d="M467.5,5 V19 M465,16.5 H478" stroke="#555" stroke-width="1" fill="none"/>
<polygon points="465.5,7 469.5,7 467.5,4" fill="#555"/>
<polygon points="477,14.5 477,18.5 480,16.5" fill="#555"/>
<rect x="473" y="5" width="1" height="10" fill="#1A6AB0"/>
<polygon points="474.5,10.5 478,8 477,10 479,10 479,11 477,11 478,13" fill="#E85A10"/>
<rect x="488" y="0" width="1" height="21" fill="#A0A0A0"/>
<path d="M498.5,3.5 H506 L509.5,7 V16.5 H498.5 Z" fill="#FFF" stroke="#8A8A8A"/>
<path d="M502,7 q-1,4 0,6" stroke="#444" fill="none"/>
<path d="M502,13 h4 v-4 h4 v4 h4 v4 h-4 v4 h-4 v-4 h-4 z" fill="#2ED82E" stroke="#0E8A0E" stroke-width="1"/>
<path d="M503,14.5 h10 M507.5,10 v10" stroke="#7CF07C" stroke-width="1"/>
<polygon points="520,10 525,10 522.5,13" fill="#000"/>
<circle cx="544" cy="10.7" r="6.9" fill="#FFF" stroke="#1058B8" stroke-width="2.4"/>
<circle cx="544" cy="10.7" r="5.5" fill="none" stroke="#8CC4F4" stroke-width="0.7"/>
<circle cx="548.30" cy="10.70" r="0.35" fill="#999"/>
<circle cx="547.72" cy="12.85" r="0.35" fill="#999"/>
<circle cx="546.15" cy="14.42" r="0.35" fill="#999"/>
<circle cx="544.00" cy="15.00" r="0.35" fill="#999"/>
<circle cx="541.85" cy="14.42" r="0.35" fill="#999"/>
<circle cx="540.28" cy="12.85" r="0.35" fill="#999"/>
<circle cx="539.70" cy="10.70" r="0.35" fill="#999"/>
<circle cx="540.28" cy="8.55" r="0.35" fill="#999"/>
<circle cx="541.85" cy="6.98" r="0.35" fill="#999"/>
<circle cx="544.00" cy="6.40" r="0.35" fill="#999"/>
<circle cx="546.15" cy="6.98" r="0.35" fill="#999"/>
<circle cx="547.72" cy="8.55" r="0.35" fill="#999"/>
<path d="M543.6,6.3 V11 H546.8" stroke="#1A1A1A" stroke-width="1.2" fill="none"/>
<path d="M542,13.8 H546" stroke="#7AB0E8" stroke-width="0.8"/>
<polygon points="559,10 564,10 561.5,13" fill="#000"/>
<rect x="575.5" y="4.5" width="15" height="13" fill="#FFF" stroke="#3A78C8"/>
<rect x="576" y="5" width="14" height="2" fill="#6AA0E0"/>
<rect x="576" y="11" width="14" height="1" fill="#3A78C8"/>
<path d="M577,10 l3,-1 l2,-1 l3,1 l3,-1.5" stroke="#A02010" fill="none"/>
<path d="M577,15.5 l3,-1 l2,0.5 l3,-2 l3,2" stroke="#1A9A1A" fill="none"/>
<polygon points="598,10 603,10 600.5,13" fill="#000"/>
<rect x="609" y="0" width="1" height="23" fill="#9A9A9A"/>
<rect x="613" y="1" width="3" height="1" fill="#9A9A9A"/>
<rect x="613" y="3" width="3" height="1" fill="#9A9A9A"/>
<rect x="613" y="5" width="3" height="1" fill="#9A9A9A"/>
<rect x="613" y="7" width="3" height="1" fill="#9A9A9A"/>
<rect x="613" y="9" width="3" height="1" fill="#9A9A9A"/>
<rect x="613" y="11" width="3" height="1" fill="#9A9A9A"/>
<rect x="613" y="13" width="3" height="1" fill="#9A9A9A"/>
<rect x="613" y="15" width="3" height="1" fill="#9A9A9A"/>
<rect x="613" y="17" width="3" height="1" fill="#9A9A9A"/>
<rect x="613" y="19" width="3" height="1" fill="#9A9A9A"/>
<rect x="619" y="0" width="1" height="21" fill="#A0A0A0"/>
<rect x="620" y="0" width="24" height="21" fill="url(#dith)" shape-rendering="crispEdges"/>
<rect x="620" y="21" width="24" height="1" fill="#FFFFFF"/>
<polygon points="627,3.5 627,15 629.5,12.5 632,18 634,17 631.5,11.5 635,11.5" fill="#4A4A4A"/>
<path d="M652,11.5 H667 M659.5,4 V19" stroke="#555" stroke-width="1"/>
<rect x="659" y="11" width="1" height="1" fill="#F0F0F0"/>
<rect x="676" y="0" width="1" height="21" fill="#A0A0A0"/>
<rect x="693" y="5" width="1.5" height="13" fill="#555"/>
<rect x="716" y="11" width="12.5" height="1.5" fill="#555"/>
<path d="M744,18 L756,5.5" stroke="#555" stroke-width="1.3"/>
<path d="M769.5,12.5 L777.5,5 M775,17.5 L784,9.5" stroke="#555" stroke-width="0.9" fill="none"/>
<path d="M772.3,17.8 Q771.8,14 773.2,10.5 M775.5,14.5 Q775,11 777,7.5 M781.5,10.5 Q780.5,7 781.5,3.5" stroke="#444" stroke-width="1.3" fill="none"/>
<path d="M785.2,15.3 H781.8 V19.3 H785.2 M781.8,17.3 H784.7" stroke="#3A3A3A" stroke-width="1.3" fill="none"/>
<rect x="799" y="4.0" width="1" height="1" fill="#555" shape-rendering="crispEdges"/>
<rect x="801" y="4.0" width="1" height="1" fill="#555" shape-rendering="crispEdges"/>
<rect x="803" y="4.0" width="1" height="1" fill="#555" shape-rendering="crispEdges"/>
<rect x="805" y="4.0" width="1" height="1" fill="#555" shape-rendering="crispEdges"/>
<rect x="807" y="4.0" width="1" height="1" fill="#555" shape-rendering="crispEdges"/>
<rect x="809" y="4.0" width="1" height="1" fill="#555" shape-rendering="crispEdges"/>
<rect x="811" y="4.0" width="1" height="1" fill="#555" shape-rendering="crispEdges"/>
<rect x="799" y="7.0" width="1" height="1" fill="#555" shape-rendering="crispEdges"/>
<rect x="801" y="7.0" width="1" height="1" fill="#555" shape-rendering="crispEdges"/>
<rect x="803" y="7.0" width="1" height="1" fill="#555" shape-rendering="crispEdges"/>
<rect x="805" y="7.0" width="1" height="1" fill="#555" shape-rendering="crispEdges"/>
<rect x="807" y="7.0" width="1" height="1" fill="#555" shape-rendering="crispEdges"/>
<rect x="809" y="7.0" width="1" height="1" fill="#555" shape-rendering="crispEdges"/>
<rect x="811" y="7.0" width="1" height="1" fill="#555" shape-rendering="crispEdges"/>
<rect x="799" y="11.0" width="1" height="1" fill="#555" shape-rendering="crispEdges"/>
<rect x="801" y="11.0" width="1" height="1" fill="#555" shape-rendering="crispEdges"/>
<rect x="803" y="11.0" width="1" height="1" fill="#555" shape-rendering="crispEdges"/>
<rect x="805" y="11.0" width="1" height="1" fill="#555" shape-rendering="crispEdges"/>
<rect x="807" y="11.0" width="1" height="1" fill="#555" shape-rendering="crispEdges"/>
<rect x="809" y="11.0" width="1" height="1" fill="#555" shape-rendering="crispEdges"/>
<rect x="811" y="11.0" width="1" height="1" fill="#555" shape-rendering="crispEdges"/>
<rect x="799" y="15.0" width="1" height="1" fill="#555" shape-rendering="crispEdges"/>
<rect x="801" y="15.0" width="1" height="1" fill="#555" shape-rendering="crispEdges"/>
<rect x="803" y="15.0" width="1" height="1" fill="#555" shape-rendering="crispEdges"/>
<rect x="805" y="15.0" width="1" height="1" fill="#555" shape-rendering="crispEdges"/>
<rect x="807" y="15.0" width="1" height="1" fill="#555" shape-rendering="crispEdges"/>
<path d="M813.2,15.3 H809.8 V20 M809.8,17.4 H812.7" stroke="#3A3A3A" stroke-width="1.3" fill="none"/>
<path d="M829.8,16.2 L833.5,6.8 L837.2,16.2 M831.2,12.8 H835.8" stroke="#505050" stroke-width="1.6" fill="none"/>
<rect x="855.5" y="5.5" width="12" height="12" fill="none" stroke="#666" stroke-dasharray="1,1" shape-rendering="crispEdges"/>
<rect x="855" y="4" width="2" height="1.5" fill="#666"/>
<path d="M858.5,8 H865 M861.75,8 V16" stroke="#505050" stroke-width="2" fill="none"/>
<polygon points="883,8.5 886.5,4.5 890,8.5 886.5,9.5" fill="#4A4A4A"/>
<path d="M885.5,11 l2.5,2.5 l3.5,-4" stroke="#4A4A4A" stroke-width="1.3" fill="none"/>
<polygon points="890,13.5 893.5,12.5 897,13.5 893.5,18" fill="#4A4A4A"/>
<polygon points="904,10 909,10 906.5,13" fill="#000"/>
<rect x="915" y="0" width="1" height="23" fill="#9A9A9A"/>
<rect x="919" y="1" width="3" height="1" fill="#9A9A9A"/>
<rect x="919" y="3" width="3" height="1" fill="#9A9A9A"/>
<rect x="919" y="5" width="3" height="1" fill="#9A9A9A"/>
<rect x="919" y="7" width="3" height="1" fill="#9A9A9A"/>
<rect x="919" y="9" width="3" height="1" fill="#9A9A9A"/>
<rect x="919" y="11" width="3" height="1" fill="#9A9A9A"/>
<rect x="919" y="13" width="3" height="1" fill="#9A9A9A"/>
<rect x="919" y="15" width="3" height="1" fill="#9A9A9A"/>
<rect x="919" y="17" width="3" height="1" fill="#9A9A9A"/>
<rect x="919" y="19" width="3" height="1" fill="#9A9A9A"/>
<text x="930.5" y="15" font-size="9.5" fill="#333">M1</text>
<text x="958.5" y="15" font-size="9.5" fill="#333">M5</text>
<text x="984.5" y="15" font-size="9.5" fill="#333">M15</text>
<text x="1012.5" y="15" font-size="9.5" fill="#333">M30</text>
<text x="1043.5" y="15" font-size="9.5" fill="#333">H1</text>
<text x="1099.5" y="15" font-size="9.5" fill="#333">D1</text>
<text x="1127" y="15" font-size="9.5" fill="#333">W1</text>
<text x="1153.5" y="15" font-size="9.5" fill="#333">MN</text>
<rect x="1065" y="0" width="1" height="21" fill="#A0A0A0"/>
<rect x="1066" y="0" width="25" height="21" fill="url(#dith)" shape-rendering="crispEdges"/>
<rect x="1066" y="21" width="25" height="1" fill="#FFFFFF"/>
<text x="1070.5" y="15" font-size="9.5" fill="#333">H4</text>
<rect x="1176" y="0" width="1" height="21" fill="#A0A0A0"/>
<circle cx="1646.5" cy="8.5" r="4" fill="#F4F6FF" stroke="#2A5AD8" stroke-width="1.5"/>
<path d="M1643.5,11.5 L1639.5,15.5" stroke="#2A5AD8" stroke-width="2.2" stroke-linecap="round"/>
<path d="M1664,13 q0,-5 6,-5 q6,0 6,5 q0,4 -6,4 l-3,3 l0.5,-3 q-3.5,-1 -3.5,-4 z" fill="#DCDCE4" stroke="#A8A8A8"/>
<circle cx="1677.5" cy="8.5" r="8" fill="#E02A10"/>
<text x="1677.5" y="13" font-size="11" font-weight="bold" fill="#FFF" text-anchor="middle" font-family="Liberation Serif">1</text></g>
</svg>
</body></html>
